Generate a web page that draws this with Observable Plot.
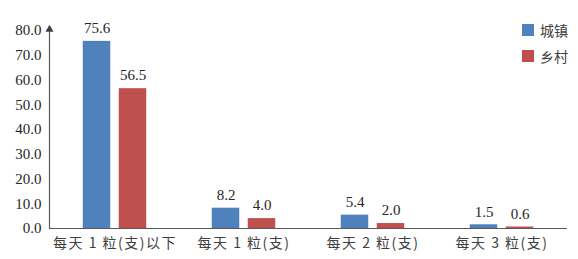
<!DOCTYPE html>
<html>
<head>
<meta charset="utf-8">
<script src="https://cdn.jsdelivr.net/npm/d3@7"></script>
<script src="https://cdn.jsdelivr.net/npm/@observablehq/plot@0.6"></script>
<style>
  html, body { margin: 0; padding: 0; background: #fff; }
  #wrap { position: relative; width: 578px; height: 259px; }
  #legend { position: absolute; left: 522px; top: 17px; font-family: "Noto Sans CJK SC", sans-serif; font-size: 14px; color: #404040; }
  .item { display: flex; align-items: center; height: 26px; }
  .sw { width: 12px; height: 12px; margin-right: 6px; }
  #wrap svg text { font-family: "Liberation Serif", serif !important; }
  #wrap svg g[aria-label="x-axis tick label"] text { font-family: "Noto Sans CJK SC", sans-serif !important; letter-spacing: 1.5px; }
</style>
</head>
<body>
<div id="wrap"><div id="legend"></div></div>
<script>
const categories = ["每天 1 粒(支)以下", "每天 1 粒(支)", "每天 2 粒(支)", "每天 3 粒(支)"];
const series = ["城镇", "乡村"];
const urban = [75.6, 8.2, 5.4, 1.5];
const rural = [56.5, 4.0, 2.0, 0.6];
const yTicks = [0, 10, 20, 30, 40, 50, 60, 70, 80];
const colors = ["#4F81BD", "#C0504D"];

const urbanData = categories.map((c, i) => ({category: c, value: urban[i]}));
const ruralData = categories.map((c, i) => ({category: c, value: rural[i]}));

const inset = 50.75;
const off = 18;
const serif = "Liberation Serif";

const plot = Plot.plot({
  width: 578,
  height: 259,
  marginLeft: 49,
  marginRight: 11,
  marginTop: 30,
  marginBottom: 31,
  style: {fontSize: "15px", fontFamily: serif, color: "#262626", background: "#fff"},
  x: {domain: categories, padding: 0, label: null},
  y: {domain: [0, 80], label: null},
  marks: [
    Plot.barY(urbanData, {x: "category", y: "value", fill: colors[0], insetLeft: inset, insetRight: inset, dx: -off}),
    Plot.barY(ruralData, {x: "category", y: "value", fill: colors[1], insetLeft: inset, insetRight: inset, dx: off}),
    Plot.text(urbanData, {x: "category", y: "value", text: d => d.value.toFixed(1), dx: -off, dy: -13, fontSize: 15, fontFamily: serif, fill: "#262626"}),
    Plot.text(ruralData, {x: "category", y: "value", text: d => d.value.toFixed(1), dx: off, dy: -13, fontSize: 15, fontFamily: serif, fill: "#262626"}),
    Plot.axisY({ticks: yTicks, tickFormat: d3.format(".1f"), tickSize: 0, tickPadding: 8, fontSize: 15, fontFamily: serif, fill: "#262626"}),
    Plot.axisX({tickSize: 0, tickPadding: 10, fontSize: 14, fill: "#404040", fontFamily: "Noto Sans CJK SC"}),
    Plot.ruleY([0], {stroke: "#595959", strokeWidth: 1.2}),
    Plot.frame({anchor: "left", stroke: "#595959", strokeWidth: 1.2}),
    Plot.dot([80], {y: d => d, frameAnchor: "left", symbol: "triangle", r: 3, fill: "#404040", stroke: "none", dy: -1})
  ]
});
document.getElementById("wrap").prepend(plot);

const legend = d3.select("#legend");
series.forEach((s, i) => {
  const it = legend.append("div").attr("class", "item");
  it.append("div").attr("class", "sw").style("background", colors[i]);
  it.append("span").text(s);
});
</script>
</body>
</html>
